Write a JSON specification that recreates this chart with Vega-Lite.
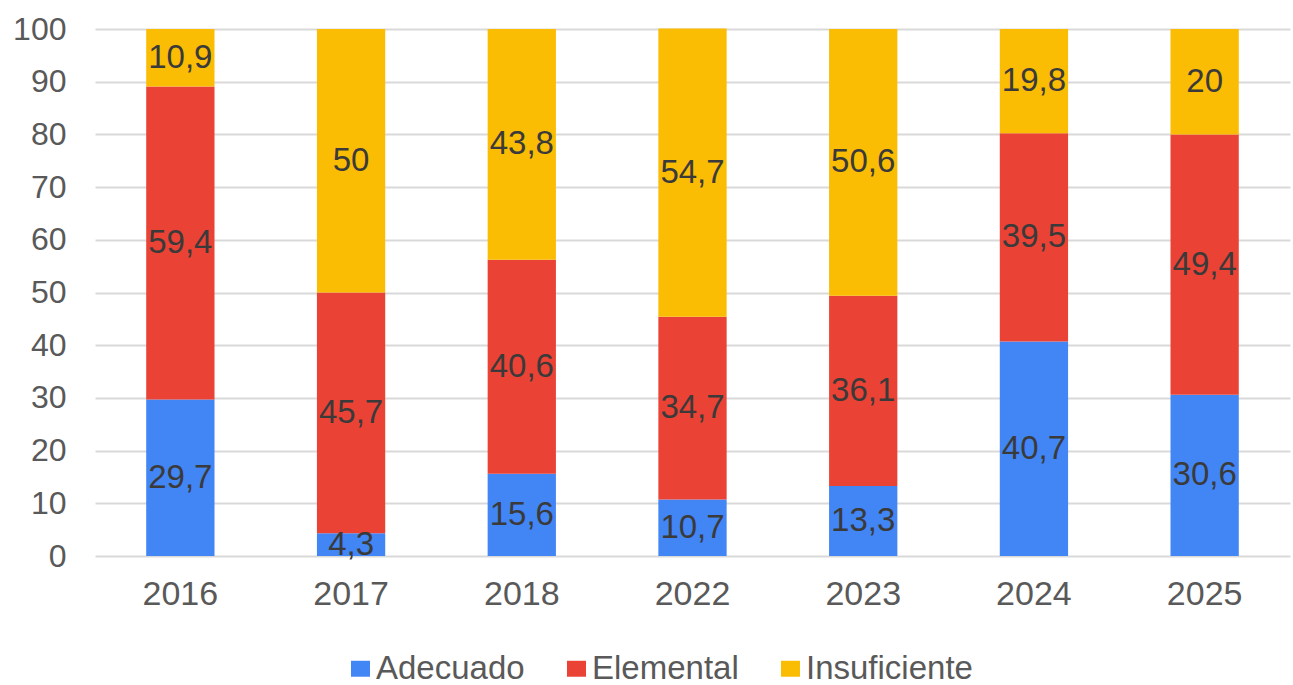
{
  "$schema": "https://vega.github.io/schema/vega-lite/v6.json",
  "width": 1195,
  "height": 527,
  "autosize": "none",
  "padding": {"left": 95, "top": 29, "right": 3, "bottom": 129},
  "background": "white",
  "config": {
    "font": "Liberation Sans",
    "view": {"stroke": null},
    "locale": {"number": {"decimal": ",", "thousands": ".", "grouping": [3], "currency": ["", " €"]}}
  },
  "data": {
    "values": [
      {"year": "2016", "level": "Adecuado", "value": 29.7},
      {"year": "2016", "level": "Elemental", "value": 59.4},
      {"year": "2016", "level": "Insuficiente", "value": 10.9},
      {"year": "2017", "level": "Adecuado", "value": 4.3},
      {"year": "2017", "level": "Elemental", "value": 45.7},
      {"year": "2017", "level": "Insuficiente", "value": 50},
      {"year": "2018", "level": "Adecuado", "value": 15.6},
      {"year": "2018", "level": "Elemental", "value": 40.6},
      {"year": "2018", "level": "Insuficiente", "value": 43.8},
      {"year": "2022", "level": "Adecuado", "value": 10.7},
      {"year": "2022", "level": "Elemental", "value": 34.7},
      {"year": "2022", "level": "Insuficiente", "value": 54.7},
      {"year": "2023", "level": "Adecuado", "value": 13.3},
      {"year": "2023", "level": "Elemental", "value": 36.1},
      {"year": "2023", "level": "Insuficiente", "value": 50.6},
      {"year": "2024", "level": "Adecuado", "value": 40.7},
      {"year": "2024", "level": "Elemental", "value": 39.5},
      {"year": "2024", "level": "Insuficiente", "value": 19.8},
      {"year": "2025", "level": "Adecuado", "value": 30.6},
      {"year": "2025", "level": "Elemental", "value": 49.4},
      {"year": "2025", "level": "Insuficiente", "value": 20}
    ]
  },
  "encoding": {
    "x": {
      "field": "year",
      "type": "nominal",
      "sort": null,
      "scale": {"paddingInner": 0.6, "paddingOuter": 0.3},
      "axis": {
        "title": null,
        "labelAngle": 0,
        "ticks": false,
        "domain": false,
        "labelFontSize": 34,
        "labelColor": "#595959",
        "labelPadding": 21
      }
    }
  },
  "layer": [
    {
      "mark": {"type": "bar"},
      "encoding": {
        "y": {
          "field": "value",
          "type": "quantitative",
          "stack": "zero",
          "scale": {"domain": [0, 100], "nice": false},
          "axis": {
            "title": null,
            "values": [0, 10, 20, 30, 40, 50, 60, 70, 80, 90, 100],
            "ticks": false,
            "domain": false,
            "labelFontSize": 32,
            "labelColor": "#595959",
            "labelPadding": 29,
            "gridColor": "#d9d9d9",
            "gridWidth": 2
          }
        },
        "color": {
          "field": "level",
          "type": "nominal",
          "scale": {
            "domain": ["Adecuado", "Elemental", "Insuficiente"],
            "range": ["#4285F4", "#EA4335", "#FBBC04"]
          },
          "legend": {
            "title": null,
            "orient": "none",
            "direction": "horizontal",
            "legendX": 249,
            "legendY": 623,
            "symbolType": "M-1,-0.84H1V0.84H-1Z",
            "symbolSize": 361,
            "symbolStrokeWidth": 0,
            "labelFontSize": 33,
            "labelLimit": 400,
            "labelColor": "#595959",
            "labelOffset": -1,
            "columnPadding": 35
          }
        },
        "order": {"field": "level"}
      }
    },
    {
      "mark": {"type": "text", "fontSize": 33, "color": "#3a3a3a", "baseline": "middle"},
      "encoding": {
        "y": {"field": "value", "type": "quantitative", "stack": "zero", "bandPosition": 0.5},
        "detail": {"field": "level"},
        "order": {"field": "level"},
        "text": {"field": "value", "type": "quantitative", "format": ".1~f"}
      }
    }
  ]
}
